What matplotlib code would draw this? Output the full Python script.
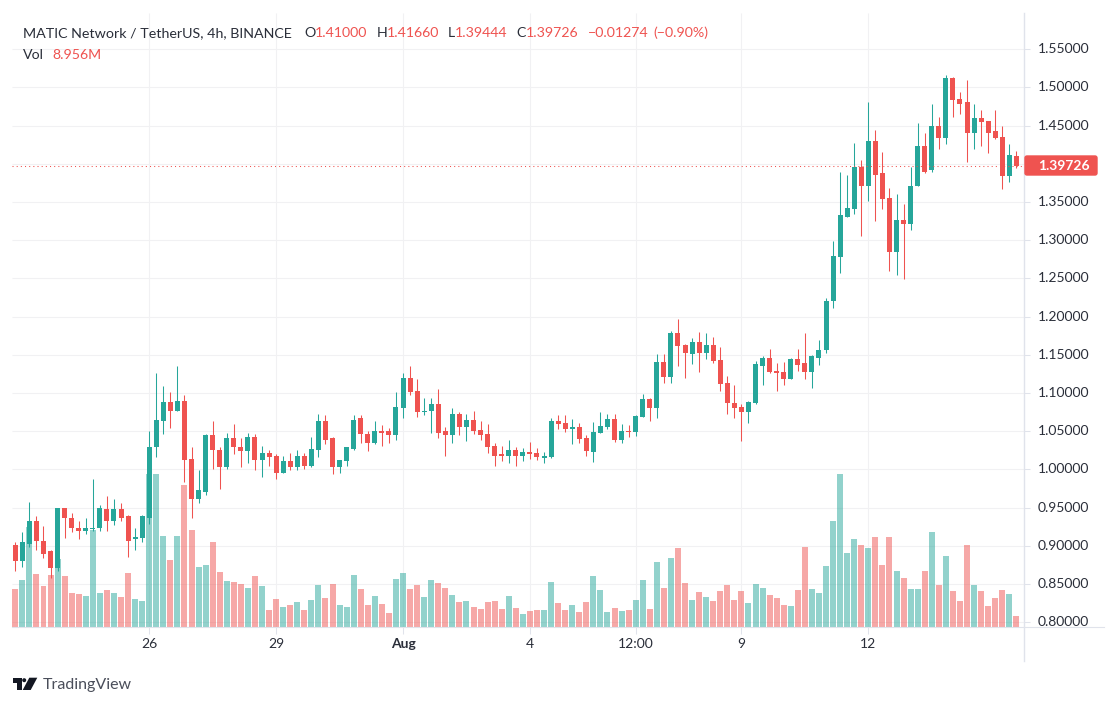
#!/usr/bin/env python
# -*- coding: utf-8 -*-

import numpy as np
import matplotlib.pyplot as plt

from matplotlib.patches import FancyBboxPatch

plt.rcParams["font.family"] = ["Lato", "DejaVu Sans"]

# open, high, low, close of every 4h candle
candles = [
    (0.901, 0.905, 0.867, 0.880), (0.880, 0.918, 0.872, 0.905), (0.903, 0.958, 0.898, 0.933),
    (0.933, 0.939, 0.895, 0.906), (0.907, 0.926, 0.884, 0.890), (0.893, 0.894, 0.858, 0.871),
    (0.871, 0.950, 0.867, 0.949), (0.949, 0.950, 0.910, 0.936), (0.937, 0.943, 0.918, 0.923),
    (0.924, 0.932, 0.909, 0.920), (0.920, 0.936, 0.915, 0.923), (0.922, 0.987, 0.919, 0.924),
    (0.923, 0.954, 0.919, 0.949), (0.948, 0.965, 0.919, 0.932), (0.932, 0.962, 0.927, 0.948),
    (0.948, 0.956, 0.932, 0.937), (0.939, 0.940, 0.885, 0.907), (0.909, 0.924, 0.894, 0.911),
    (0.910, 0.940, 0.905, 0.939), (0.937, 1.050, 0.929, 1.030), (1.029, 1.126, 1.016, 1.065),
    (1.064, 1.109, 1.047, 1.088), (1.088, 1.102, 1.054, 1.077), (1.077, 1.135, 1.076, 1.090),
    (1.090, 1.098, 0.983, 1.013), (1.014, 1.029, 0.936, 0.962), (0.962, 0.999, 0.956, 0.973),
    (0.971, 1.046, 0.967, 1.045), (1.045, 1.064, 1.001, 1.025), (1.026, 1.030, 0.975, 1.003),
    (1.003, 1.048, 1.001, 1.041), (1.041, 1.059, 1.020, 1.029), (1.030, 1.041, 1.003, 1.024),
    (1.024, 1.048, 1.009, 1.043), (1.043, 1.046, 0.999, 1.012), (1.012, 1.031, 0.990, 1.021),
    (1.021, 1.026, 1.004, 1.017), (1.018, 1.020, 0.988, 0.996), (0.996, 1.018, 0.995, 1.011),
    (1.011, 1.022, 0.999, 1.003), (1.003, 1.025, 0.999, 1.018), (1.018, 1.022, 1.001, 1.005),
    (1.005, 1.043, 1.003, 1.027), (1.026, 1.072, 1.016, 1.064), (1.064, 1.071, 1.033, 1.039),
    (1.041, 1.042, 0.994, 1.003), (1.003, 1.012, 0.996, 1.012), (1.011, 1.029, 1.004, 1.029),
    (1.027, 1.071, 1.025, 1.065), (1.067, 1.071, 1.035, 1.046), (1.047, 1.050, 1.024, 1.035),
    (1.035, 1.064, 1.034, 1.051), (1.051, 1.058, 1.031, 1.048), (1.050, 1.054, 1.035, 1.045),
    (1.045, 1.101, 1.038, 1.082), (1.081, 1.126, 1.067, 1.120), (1.120, 1.135, 1.098, 1.102),
    (1.103, 1.119, 1.069, 1.075), (1.075, 1.093, 1.071, 1.077), (1.076, 1.093, 1.048, 1.086),
    (1.086, 1.106, 1.041, 1.048), (1.050, 1.056, 1.018, 1.045), (1.045, 1.080, 1.035, 1.072),
    (1.072, 1.075, 1.045, 1.055), (1.055, 1.073, 1.037, 1.065), (1.065, 1.076, 1.047, 1.050),
    (1.052, 1.063, 1.039, 1.045), (1.046, 1.060, 1.022, 1.030), (1.031, 1.035, 1.004, 1.018),
    (1.020, 1.031, 1.011, 1.018), (1.018, 1.039, 1.008, 1.025), (1.026, 1.030, 1.005, 1.018),
    (1.018, 1.028, 1.011, 1.023), (1.023, 1.036, 1.014, 1.020), (1.022, 1.028, 1.012, 1.016),
    (1.015, 1.023, 1.009, 1.018), (1.016, 1.067, 1.015, 1.064), (1.064, 1.071, 1.053, 1.060),
    (1.061, 1.071, 1.049, 1.053), (1.053, 1.066, 1.033, 1.056), (1.056, 1.061, 1.035, 1.040),
    (1.041, 1.045, 1.018, 1.024), (1.023, 1.062, 1.010, 1.049), (1.048, 1.075, 1.048, 1.057),
    (1.056, 1.073, 1.053, 1.066), (1.066, 1.073, 1.036, 1.039), (1.039, 1.060, 1.035, 1.050),
    (1.050, 1.058, 1.043, 1.049), (1.049, 1.071, 1.044, 1.070), (1.069, 1.099, 1.069, 1.092),
    (1.092, 1.094, 1.064, 1.081), (1.081, 1.151, 1.067, 1.141), (1.141, 1.151, 1.113, 1.121),
    (1.121, 1.181, 1.113, 1.179), (1.179, 1.197, 1.135, 1.162), (1.163, 1.164, 1.120, 1.152),
    (1.151, 1.172, 1.138, 1.167), (1.167, 1.180, 1.128, 1.152), (1.152, 1.179, 1.145, 1.163),
    (1.163, 1.173, 1.139, 1.142), (1.143, 1.160, 1.103, 1.112), (1.113, 1.122, 1.073, 1.087),
    (1.087, 1.111, 1.067, 1.081), (1.082, 1.086, 1.037, 1.075), (1.075, 1.090, 1.061, 1.088),
    (1.087, 1.142, 1.086, 1.138), (1.136, 1.149, 1.110, 1.146), (1.146, 1.158, 1.126, 1.128),
    (1.129, 1.140, 1.103, 1.126), (1.127, 1.141, 1.110, 1.119), (1.119, 1.146, 1.118, 1.144),
    (1.144, 1.158, 1.129, 1.137), (1.139, 1.179, 1.119, 1.128), (1.128, 1.150, 1.107, 1.148),
    (1.146, 1.170, 1.137, 1.156), (1.156, 1.224, 1.152, 1.221), (1.220, 1.299, 1.211, 1.279),
    (1.278, 1.389, 1.257, 1.333), (1.331, 1.385, 1.330, 1.342), (1.341, 1.428, 1.335, 1.396),
    (1.396, 1.405, 1.306, 1.371), (1.371, 1.481, 1.352, 1.430), (1.430, 1.444, 1.325, 1.386),
    (1.388, 1.415, 1.341, 1.354), (1.355, 1.369, 1.260, 1.285), (1.285, 1.361, 1.255, 1.327),
    (1.327, 1.347, 1.249, 1.321), (1.321, 1.396, 1.314, 1.371), (1.371, 1.453, 1.371, 1.424),
    (1.423, 1.441, 1.388, 1.390), (1.392, 1.479, 1.390, 1.449), (1.449, 1.461, 1.420, 1.434),
    (1.434, 1.517, 1.426, 1.512), (1.512, 1.514, 1.461, 1.483), (1.485, 1.494, 1.465, 1.479),
    (1.481, 1.510, 1.402, 1.440), (1.440, 1.479, 1.419, 1.460), (1.460, 1.470, 1.424, 1.455),
    (1.456, 1.456, 1.414, 1.441), (1.443, 1.470, 1.432, 1.434), (1.435, 1.449, 1.367, 1.384),
    (1.384, 1.426, 1.376, 1.411), (1.410, 1.4166, 1.39444, 1.39726),
]
# volume in millions
volumes = [
    30.9, 38.3, 81.4, 43.1, 33.4, 42.3, 55.3, 41.5, 27.7, 26.9, 25.2, 78.9, 27.7, 30.1, 27.7,
    24.4, 44.0, 22.8, 21.2, 124.5, 124.5, 74.1, 54.5, 74.1, 115.6, 78.9, 48.8, 50.5, 69.2, 44.8,
    37.4, 36.6, 35.0, 31.7, 41.5, 33.4, 13.8, 22.8, 16.3, 17.9, 20.3, 13.8, 22.0, 34.2, 23.6,
    35.0, 17.9, 16.3, 42.3, 30.9, 17.9, 25.2, 18.7, 11.4, 39.1, 44.0, 30.9, 34.2, 24.4, 38.3,
    35.8, 31.7, 26.0, 20.3, 21.2, 16.3, 14.7, 20.3, 21.2, 14.7, 25.2, 15.5, 10.6, 13.0, 13.8,
    13.8, 36.6, 19.5, 13.8, 17.9, 12.2, 20.3, 41.5, 30.1, 12.2, 15.5, 13.0, 13.8, 22.0, 38.3,
    14.7, 52.9, 31.7, 56.2, 64.3, 35.8, 22.0, 28.5, 24.4, 21.2, 29.3, 34.2, 22.0, 29.3, 19.5,
    35.0, 31.7, 26.0, 23.6, 17.9, 17.1, 30.1, 65.1, 30.9, 27.7, 49.6, 86.3, 124.5, 60.2, 71.6,
    66.7, 64.3, 73.3, 50.5, 73.3, 45.6, 39.9, 30.9, 30.9, 45.6, 77.3, 34.2, 57.8, 29.3, 21.2,
    66.7, 34.2, 29.3, 17.1, 23.6, 30.1, 26.9, 8.956,
]


def candle_drawing(up_color, down_color):
    # convert list to numpy array
    data = np.array(candles)
    volume = np.array(volumes)
    opens, highs, lows, closes = data.T
    index = np.arange(len(data))
    colors = np.where(closes >= opens, up_color, down_color)
    levels = np.arange(0.80, 1.56, 0.05)
    price_min = 0.79385
    vol_scale = 0.001608  # price units per million of volume, volume keeps to the lower part
    axis_x = 143.08
    # drawing
    plt.figure(figsize=(11.17, 7.06), dpi=100)
    plt.axes([12 / 1117, 79 / 706, 1092 / 1117, 614 / 706])
    plt.hlines(levels, -0.47, axis_x, color="#f1f1f3", lw=0.75, zorder=1)
    plt.hlines(levels, axis_x, axis_x + 0.85, color="#e0e3eb", lw=0.75, zorder=1)
    plt.vlines([19, 37, 55, 73, 88, 103, 121], price_min, 1.5975, color="#f1f1f3", lw=0.75, zorder=1)
    plt.bar(index, volume * vol_scale, bottom=price_min, width=0.85, color=colors, alpha=0.5, lw=0, zorder=2)
    plt.vlines(index, lows, highs, color=colors, lw=0.75, zorder=3)
    plt.bar(index, np.abs(closes - opens), bottom=np.minimum(opens, closes), width=0.71, color=colors, lw=0, zorder=4)
    plt.hlines(closes[-1], -0.47, axis_x, color=down_color, lw=0.75, linestyles=(0, (1, 3)), zorder=5)
    plt.plot([axis_x, axis_x], [0.7493, 1.5975], color="#e0e3eb", lw=1, clip_on=False, zorder=5)
    for level in levels:
        if abs(level - 1.40) > 0.01:  # hidden behind the last price
            plt.text(axis_x + 1.98, level, "%.5f" % level, color="#2a2e39", fontsize=10, va="center", clip_on=True)
    plt.xlim([-0.468, 154.43])
    plt.ylim([price_min, 1.5975])
    plt.xticks([19, 37, 55, 73, 88, 103, 121], ["26", "29", "Aug", "4", "12:00", "9", "12"])
    plt.yticks([])
    plt.tick_params(axis="x", length=5, width=0.75, color="#e0e3eb", labelcolor="#2a2e39", labelsize=10, pad=3)
    plt.gca().get_xticklabels()[2].set_fontweight("bold")
    for side in ["top", "left", "right"]:
        plt.gca().spines[side].set_visible(False)
    plt.gca().spines["bottom"].set_color("#e0e3eb")

    # legend, last price and logo, in pixels of the picture
    plt.axes([0, 0, 1, 1], facecolor="none")
    plt.xlim([0, 1117])
    plt.ylim([706, 0])
    plt.axis("off")
    plt.gca().add_patch(FancyBboxPatch((1025, 156), 72, 19, boxstyle="round,pad=0,rounding_size=2", fc=down_color, ec=down_color, lw=1))
    plt.text(1038, 165.5, "%.5f" % closes[-1], color="white", fontsize=10, fontweight="bold", va="center")
    dark = "#2a2e39"
    parts = [(23, "MATIC Network / TetherUS, 4h, BINANCE", dark, 10.3), (304, "O", dark, 10.2), (314.5, "1.41000", down_color, 10.2),
             (376.5, "H", dark, 10.2), (386.6, "1.41660", down_color, 10.2), (448, "L", dark, 10.2), (454.6, "1.39444", down_color, 10.2),
             (516.5, "C", dark, 10.2), (526, "1.39726", down_color, 10.2), (587.7, "\u22120.01274", down_color, 10.2),
             (653, "(\u22120.90%)", down_color, 10.2)]
    for x, text, color, size in parts:
        plt.text(x, 33, text, color=color, fontsize=size, va="center")
    plt.text(23, 55, "Vol", color=dark, fontsize=10.2, va="center")
    plt.text(52.3, 55, "8.956M", color=down_color, fontsize=10.2, va="center")
    plt.fill([12.7, 22, 22, 17.3, 17.3, 12.7], [677.7, 677.7, 690, 690, 682.7, 682.7], color="#131722", lw=0)
    plt.fill([29.3, 37.3, 30.7, 22.7], [677.7, 677.7, 690, 690], color="#131722", lw=0)
    plt.gca().add_patch(plt.Circle((24.2, 680.2), 2, color="#131722", lw=0))
    plt.text(43, 685, "TradingView", color="#4a4e5a", fontsize=11.5, va="center")
    plt.savefig("out.png")


if __name__ == "__main__":
    candle_drawing("#26a69a", "#ef5350")
